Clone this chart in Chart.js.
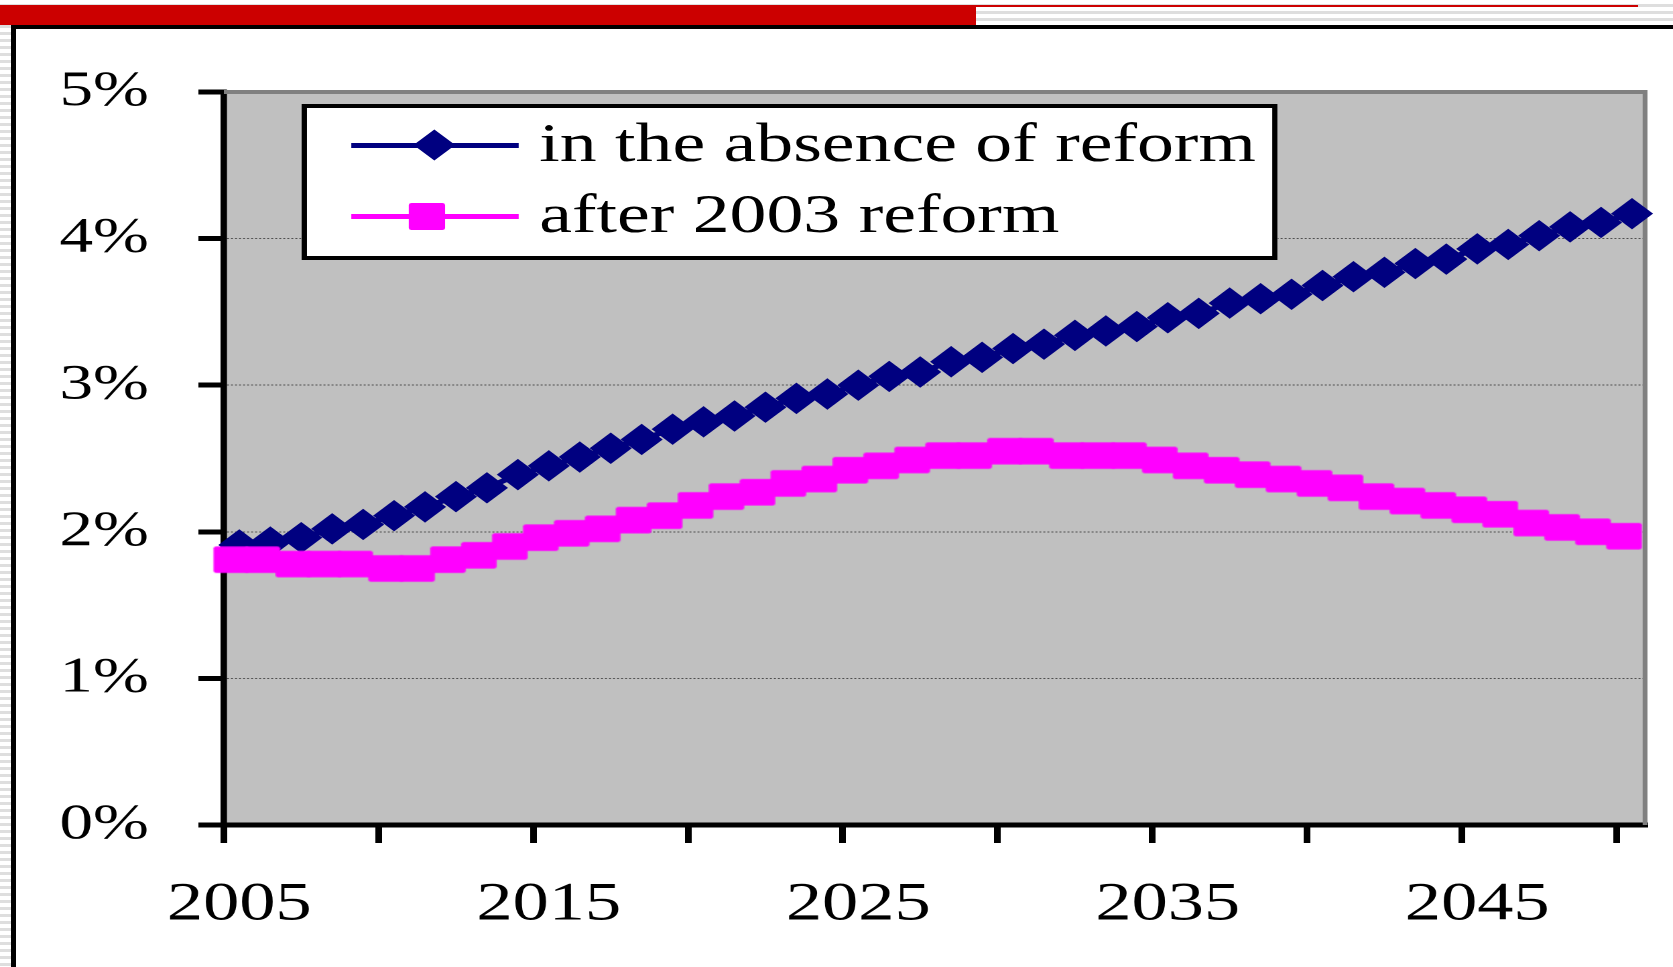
<!DOCTYPE html>
<html>
<head>
<meta charset="utf-8">
<title>Pension spending</title>
<script src="https://cdn.jsdelivr.net/npm/chart.js@4.4.1/dist/chart.umd.min.js"></script>
<style>
  html, body { margin: 0; padding: 0; }
  body {
    width: 1673px; height: 967px; overflow: hidden; position: relative;
    background: repeating-linear-gradient(to bottom, #ffffff 0px, #ffffff 4px, #dedede 4px, #dedede 7px);
  }
  #redbar  { position: absolute; left: 0; top: 5px; width: 976px; height: 20px; background: #cc0000; }
  #redline { position: absolute; left: 976px; top: 5px; width: 662px; height: 2px; background: #cc0000; }
  #frame {
    position: absolute; left: 11px; top: 25px; right: -20px; bottom: -20px;
    background: #ffffff; border-top: 4px solid #000; border-left: 5px solid #000;
  }
  /* the whole chart is drawn narrow and widened, like a stretched slide graphic */
  #stage {
    position: absolute; left: 0; top: 0; width: 1248px; height: 967px;
    transform: scaleX(1.3405); transform-origin: 0 0;
  }
  #chartBox { position: absolute; left: 0; top: 0; width: 1248px; height: 967px; }
  #legend {
    position: absolute; left: 224.5px; top: 103.5px; width: 728px; height: 156.5px;
    box-sizing: border-box; border: 4.5px solid #000; background: #fff;
    font-family: "Liberation Serif", "Times New Roman", serif; font-size: 55px; color: #000;
  }
  .lg-line { position: absolute; left: 33.3px; width: 125px; height: 5px; }
  .lg-mark { position: absolute; }
  .lg-text { position: absolute; left: 173.8px; line-height: 55px; white-space: nowrap; }
</style>
</head>
<body>
<div id="redbar"></div>
<div id="redline"></div>
<div id="frame"></div>
<div id="stage">
  <div id="chartBox"><canvas id="chart"></canvas></div>
  <div id="legend"></div>
</div>
<script>
// Years on the horizontal axis
const years = ['2005','2006','2007','2008','2009','2010','2011','2012','2013','2014',
               '2015','2016','2017','2018','2019','2020','2021','2022','2023','2024',
               '2025','2026','2027','2028','2029','2030','2031','2032','2033','2034',
               '2035','2036','2037','2038','2039','2040','2041','2042','2043','2044',
               '2045','2046','2047','2048','2049','2050'];

// Spending, % of GDP
const noReform = [1.91, 1.93, 1.96, 2.02, 2.05, 2.11, 2.17, 2.24, 2.30, 2.39,
                  2.45, 2.51, 2.57, 2.63, 2.70, 2.75, 2.79, 2.85, 2.91, 2.94,
                  3.00, 3.06, 3.09, 3.16, 3.19, 3.25, 3.28, 3.34, 3.37, 3.40,
                  3.46, 3.49, 3.56, 3.59, 3.62, 3.68, 3.74, 3.77, 3.83, 3.86,
                  3.93, 3.96, 4.02, 4.08, 4.11, 4.17];

const reform2003 = [1.81, 1.81, 1.78, 1.78, 1.78, 1.75, 1.75, 1.81, 1.84, 1.90,
                    1.96, 1.99, 2.02, 2.08, 2.11, 2.18, 2.24, 2.27, 2.33, 2.36,
                    2.42, 2.45, 2.49, 2.52, 2.52, 2.55, 2.55, 2.52, 2.52, 2.52,
                    2.49, 2.45, 2.42, 2.39, 2.36, 2.33, 2.30, 2.24, 2.21, 2.18,
                    2.15, 2.12, 2.06, 2.03, 2.00, 1.97];

const seriesNames = ['in the absence of reform', 'after 2003 reform'];
const yTickValues = [0, 1, 2, 3, 4, 5];

const NAVY = '#000080';
const MAGENTA = '#ff00ff';
const SERIF = '"Liberation Serif", "Times New Roman", serif';

// square marker that sits a little to the left of its point
function squareMarker(color, side, shift) {
  const w = Math.ceil(side + 2 * shift) + 2;
  const h = Math.ceil(side) + 2;
  const c = document.createElement('canvas');
  c.width = w; c.height = h;
  const g = c.getContext('2d');
  g.fillStyle = color;
  const x = w / 2 - shift - side / 2, y = h / 2 - side / 2;
  g.beginPath();
  if (g.roundRect) g.roundRect(x, y, side, side, 2); else g.rect(x, y, side, side);
  g.fill();
  return c;
}

// grey plot area and its top/right edge
const plotArea = {
  id: 'plotArea',
  beforeDraw(chart) {
    const { ctx, chartArea: a } = chart;
    ctx.save();
    ctx.fillStyle = '#c0c0c0';
    ctx.fillRect(a.left, a.top, a.right - a.left, a.bottom - a.top);
    ctx.restore();
  },
  beforeDatasetsDraw(chart) {
    const { ctx, chartArea: a } = chart;
    ctx.save();
    ctx.strokeStyle = '#808080';
    ctx.lineWidth = 4;
    ctx.beginPath();
    ctx.moveTo(a.left, a.top);
    ctx.lineTo(a.right - 1.8, a.top);
    ctx.stroke();
    ctx.lineWidth = 3.6;
    ctx.beginPath();
    ctx.moveTo(a.right - 1.8, a.top - 2);
    ctx.lineTo(a.right - 1.8, a.bottom);
    ctx.stroke();
    ctx.restore();
  }
};

Chart.defaults.font.family = SERIF;
Chart.defaults.color = '#000';

const chart = new Chart(document.getElementById('chart'), {
  type: 'line',
  data: {
    labels: years,
    datasets: [
      {
        label: seriesNames[0],
        data: noReform,
        borderColor: NAVY,
        backgroundColor: NAVY,
        borderWidth: 5,
        pointStyle: 'rectRot',
        pointRadius: 15,
        pointBorderWidth: 1,
        pointBorderColor: NAVY,
        pointBackgroundColor: NAVY,
        tension: 0,
        clip: false,
        order: 1
      },
      {
        label: seriesNames[1],
        data: reform2003,
        borderColor: MAGENTA,
        backgroundColor: MAGENTA,
        borderWidth: 5,
        pointStyle: squareMarker(MAGENTA, 26.5, 6),
        pointRadius: 14,
        tension: 0,
        clip: false,
        order: 0
      }
    ]
  },
  options: {
    responsive: true,
    maintainAspectRatio: false,
    devicePixelRatio: 2,
    animation: false,
    events: [],
    layout: { padding: { top: 92, right: 17, bottom: 0, left: 0 } },
    plugins: {
      legend: { display: false },
      tooltip: { enabled: false },
      title: { display: false }
    },
    scales: {
      x: {
        type: 'category',
        offset: true,
        afterFit(scale) { scale.height = 142; },
        grid: {
          display: true,
          offset: true,
          drawOnChartArea: false,
          drawTicks: true,
          tickLength: 18,
          tickWidth: 5,
          tickColor: (ctx) => (ctx.index % 5 === 0 ? '#000' : 'rgba(0,0,0,0)')
        },
        border: { display: true, color: '#000', width: 5 },
        ticks: {
          autoSkip: false,
          maxRotation: 0,
          minRotation: 0,
          padding: 30,
          color: '#000',
          font: { family: SERIF, size: 54 },
          callback(value, index) {
            return index % 10 === 0 ? this.getLabelForValue(value) : '';
          }
        }
      },
      y: {
        min: 0,
        max: 5,
        afterFit(scale) { scale.width = 167; },
        afterBuildTicks(scale) { scale.ticks = yTickValues.map(v => ({ value: v })); },
        grid: {
          display: true,
          drawOnChartArea: true,
          drawTicks: true,
          tickLength: 19,
          tickWidth: 5,
          tickColor: '#000',
          lineWidth: 1,
          color: (ctx) => {
            const v = ctx.tick ? ctx.tick.value : null;
            return (v === 0 || v === 5) ? 'rgba(0,0,0,0)' : '#505050';
          }
        },
        border: { display: true, color: '#000', width: 4.8, dash: [1.5, 1.5] },
        ticks: {
          padding: 37,
          color: '#000',
          font: { family: SERIF, size: 50 },
          callback: (v) => v + '%'
        }
      }
    }
  },
  plugins: [plotArea]
});

// legend box built from the chart's own datasets
(function buildLegend() {
  const box = document.getElementById('legend');
  const rowCenters = [38, 108.7];
  const textTops = [7.7, 78.7];
  chart.data.datasets.forEach((ds, i) => {
    const cy = rowCenters[i];
    const line = document.createElement('div');
    line.className = 'lg-line';
    line.style.top = (cy - 2.5) + 'px';
    line.style.background = ds.borderColor;
    box.appendChild(line);

    const mark = document.createElement('div');
    mark.className = 'lg-mark';
    mark.style.background = ds.borderColor;
    if (ds.pointStyle === 'rectRot') {
      const s = 15.6 * Math.SQRT2;
      mark.style.width = s + 'px';
      mark.style.height = s + 'px';
      mark.style.left = (95.9 - s / 2) + 'px';
      mark.style.top = (cy - s / 2) + 'px';
      mark.style.transform = 'rotate(45deg)';
    } else {
      const s = 27;
      mark.style.width = s + 'px';
      mark.style.height = s + 'px';
      mark.style.left = (89.9 - s / 2) + 'px';
      mark.style.top = (cy - s / 2) + 'px';
      mark.style.borderRadius = '2px';
    }
    box.appendChild(mark);

    const text = document.createElement('div');
    text.className = 'lg-text';
    text.style.top = textTops[i] + 'px';
    text.textContent = ds.label;
    box.appendChild(text);
  });
})();
</script>
</body>
</html>
